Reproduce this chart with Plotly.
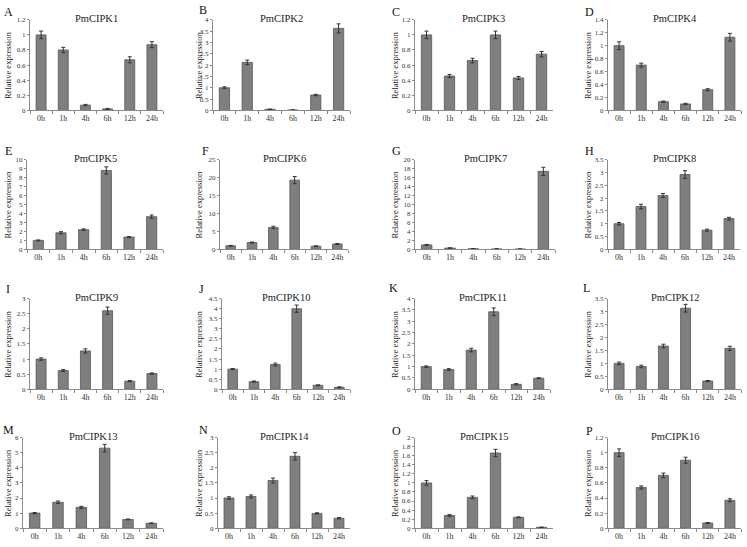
import plotly.graph_objects as go

times = ["0h", "1h", "4h", "6h", "12h", "24h"]
genes = ["PmCIPK1", "PmCIPK2", "PmCIPK3", "PmCIPK4",
         "PmCIPK5", "PmCIPK6", "PmCIPK7", "PmCIPK8",
         "PmCIPK9", "PmCIPK10", "PmCIPK11", "PmCIPK12",
         "PmCIPK13", "PmCIPK14", "PmCIPK15", "PmCIPK16"]
letters = list("ABCDEFGHIJKLMNOP")

values = [
    [1.0, 0.80, 0.07, 0.02, 0.67, 0.87],
    [1.0, 2.12, 0.05, 0.02, 0.68, 3.62],
    [1.0, 0.455, 0.66, 1.0, 0.43, 0.745],
    [1.0, 0.70, 0.135, 0.10, 0.32, 1.13],
    [1.0, 1.85, 2.2, 8.8, 1.37, 3.65],
    [1.0, 1.9, 6.1, 19.3, 0.9, 1.5],
    [1.0, 0.3, 0.15, 0.1, 0.08, 17.4],
    [1.0, 1.67, 2.1, 2.92, 0.75, 1.2],
    [1.0, 0.62, 1.27, 2.6, 0.27, 0.52],
    [1.0, 0.38, 1.23, 4.0, 0.2, 0.1],
    [1.0, 0.87, 1.73, 3.42, 0.22, 0.49],
    [1.0, 0.88, 1.67, 3.13, 0.32, 1.58],
    [1.0, 1.72, 1.38, 5.3, 0.58, 0.33],
    [1.0, 1.05, 1.58, 2.38, 0.49, 0.33],
    [1.0, 0.28, 0.68, 1.66, 0.24, 0.02],
    [1.0, 0.54, 0.70, 0.90, 0.07, 0.37],
]
errors = [
    [0.05, 0.035, 0.01, 0.005, 0.04, 0.04],
    [0.04, 0.10, 0.01, 0.005, 0.03, 0.20],
    [0.05, 0.02, 0.03, 0.05, 0.02, 0.035],
    [0.06, 0.03, 0.01, 0.01, 0.015, 0.06],
    [0.05, 0.12, 0.08, 0.40, 0.05, 0.18],
    [0.10, 0.15, 0.35, 1.0, 0.05, 0.15],
    [0.10, 0.03, 0.02, 0.01, 0.01, 0.90],
    [0.05, 0.09, 0.08, 0.15, 0.04, 0.05],
    [0.04, 0.03, 0.07, 0.12, 0.02, 0.02],
    [0.03, 0.03, 0.07, 0.18, 0.02, 0.02],
    [0.03, 0.04, 0.08, 0.17, 0.03, 0.02],
    [0.05, 0.05, 0.07, 0.15, 0.02, 0.08],
    [0.04, 0.08, 0.07, 0.25, 0.03, 0.02],
    [0.04, 0.05, 0.08, 0.12, 0.02, 0.02],
    [0.05, 0.02, 0.03, 0.08, 0.01, 0.005],
    [0.05, 0.02, 0.03, 0.04, 0.005, 0.02],
]
y_max = [1.2, 4, 1.2, 1.4, 10, 25, 20, 3.5, 3, 4.5, 4, 3.5, 6, 3, 2, 1.2]
y_step = [0.2, 0.5, 0.2, 0.2, 1, 5, 2, 0.5, 0.5, 0.5, 0.5, 0.5, 1, 0.5, 0.2, 0.2]

W, H = 747, 547
# pixel layout of plot areas
row_tb = [(16, 108), (158, 249), (299, 391), (440, 532)]
col_lr = [
    [(30, 163), (213, 350), (415, 553), (608, 741)],
    [(27, 163), (220, 348), (415, 555), (608, 740)],
    [(30, 163), (222, 350), (415, 550), (608, 741)],
    [(23, 163), (218, 350), (415, 553), (608, 741)],
]
ytitle_x = [8, 199, 395, 588]
letter_pos = [
    [(8, 8), (203, 6), (396, 8), (589, 8)],
    [(8, 149), (205, 149), (396, 149), (589, 149)],
    [(8, 289), (201, 289), (393, 288), (586, 288)],
    [(8, 432), (203, 432), (397, 433), (589, 433)],
]

FONT = "Liberation Serif"
BAR = "#7f7f7f"
fig = go.Figure()
annotations = []
layout = {}
for i in range(16):
    r, c = divmod(i, 4)
    top, bot = row_tb[r]
    left, right = col_lr[r][c]
    ax = "" if i == 0 else str(i + 1)
    fig.add_trace(go.Bar(
        x=times, y=values[i],
        error_y=dict(type="data", array=errors[i], color="#333333", thickness=1, width=2),
        marker=dict(color=BAR, line=dict(color="#555555", width=0.8)),
        xaxis="x" + ax, yaxis="y" + ax, showlegend=False,
    ))
    layout["xaxis" + ax] = dict(
        domain=[left / W, right / W], anchor="y" + ax, type="category",
        showline=True, linecolor="#8a8a8a", linewidth=1,
        ticks="outside", tickson="boundaries", ticklen=3, tickcolor="#8a8a8a",
        tickfont=dict(family=FONT, size=8, color="#333333"),
        showgrid=False, zeroline=False,
    )
    layout["yaxis" + ax] = dict(
        domain=[(H - bot) / H, (H - top) / H], anchor="x" + ax,
        range=[0, y_max[i]], dtick=y_step[i], tick0=0,
        showline=True, linecolor="#8a8a8a", linewidth=1,
        ticks="outside", ticklen=2, tickcolor="#8a8a8a",
        tickfont=dict(family=FONT, size=7, color="#333333"),
        showgrid=False, zeroline=False,
    )
    annotations.append(dict(
        text=genes[i], xref="paper", yref="paper",
        x=(left + right) / 2 / W, y=(H - top + 1) / H,
        xanchor="center", yanchor="middle", showarrow=False,
        font=dict(family=FONT, size=10.5, color="#222222"),
    ))
    annotations.append(dict(
        text="Relative expression", xref="paper", yref="paper",
        x=ytitle_x[c] / W, y=(H - (top + bot) / 2) / H, textangle=-90,
        xanchor="center", yanchor="middle", showarrow=False,
        font=dict(family=FONT, size=8.5, color="#222222"),
    ))
    lx, ly = letter_pos[r][c]
    annotations.append(dict(
        text=letters[i], xref="paper", yref="paper",
        x=lx / W, y=(H - ly) / H, xanchor="center", yanchor="middle",
        showarrow=False, font=dict(family=FONT, size=12, color="#111111"),
    ))

fig.update_layout(
    width=W, height=H, margin=dict(l=0, r=0, t=0, b=0),
    paper_bgcolor="white", plot_bgcolor="white",
    bargap=0.55, annotations=annotations, **layout,
)
fig.write_html(
    "out.html",
    config={"displayModeBar": False},
    post_script="document.body.style.margin='0';document.body.style.overflow='hidden';",
)
